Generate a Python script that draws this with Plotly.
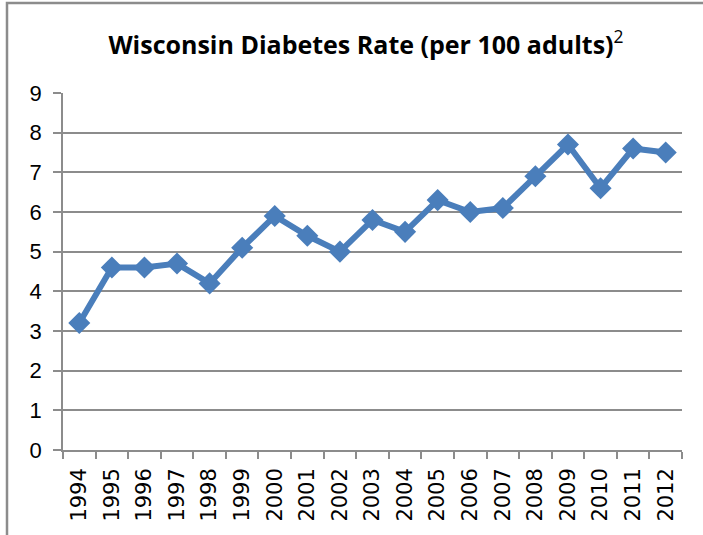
import plotly.graph_objects as go

years = [str(y) for y in range(1994, 2013)]
rates = [3.2, 4.6, 4.6, 4.7, 4.2, 5.1, 5.9, 5.4, 5.0, 5.8, 5.5, 6.3, 6.0, 6.1, 6.9, 7.7, 6.6, 7.6, 7.5]
y_ticks = list(range(0, 10))

W, H = 703, 535
L, R, T, B = 63, 21, 93, 85
pw, ph = W - L - R, H - T - B

def px_x(x):
    return (x - L) / pw

def px_y(y):
    return (H - B - y) / ph

fig = go.Figure()
fig.add_trace(go.Scatter(
    x=years, y=rates, mode="lines+markers",
    line=dict(color="#4A7EBB", width=6),
    marker=dict(symbol="diamond", size=17, color="#4A7EBB"),
    showlegend=False, cliponaxis=False,
))

grid = "#8C8C8C"
fig.update_layout(
    width=W, height=H,
    margin=dict(l=L, r=R, t=T, b=B, pad=0, autoexpand=False),
    paper_bgcolor="white", plot_bgcolor="white",
    title=dict(
        text="<b>Wisconsin Diabetes Rate (per 100 adults)</b><sup>2</sup>",
        x=(366 - L) / pw, xref="paper", xanchor="center", y=1 - 45 / H, yanchor="middle",
        font=dict(family="Open Sans", size=25, color="black"),
    ),
    xaxis=dict(
        type="category", range=[-0.5, len(years) - 0.5],
        tickson="boundaries", ticks="outside", ticklen=7,
        tickcolor=grid, tickwidth=1.5, showgrid=False, automargin=False,
        showline=True, linecolor=grid, linewidth=1.5,
        tickangle=-90, tickfont=dict(family="DejaVu Sans", size=21, color="black"),
        ticklabelstandoff=8,
    ),
    yaxis=dict(
        range=[0, 9], tickvals=y_ticks, ticks="outside", ticklen=8, automargin=False,
        tickcolor=grid, tickwidth=1.5, showgrid=True, gridcolor=grid, gridwidth=1.5,
        showline=True, linecolor=grid, linewidth=1.5, zeroline=False,
        tickfont=dict(family="Liberation Sans", size=22, color="black"),
        ticklabelstandoff=7,
    ),
    shapes=[dict(
        type="rect", xref="paper", yref="paper",
        x0=px_x(7), x1=px_x(715), y0=px_y(545), y1=px_y(3),
        line=dict(color="#8C8C8C", width=2.5), fillcolor="rgba(0,0,0,0)", layer="below",
    )],
)

fig.write_html(
    "out.html",
    config={"displayModeBar": False},
    post_script="document.body.style.margin='0';document.body.style.overflow='hidden';",
)
